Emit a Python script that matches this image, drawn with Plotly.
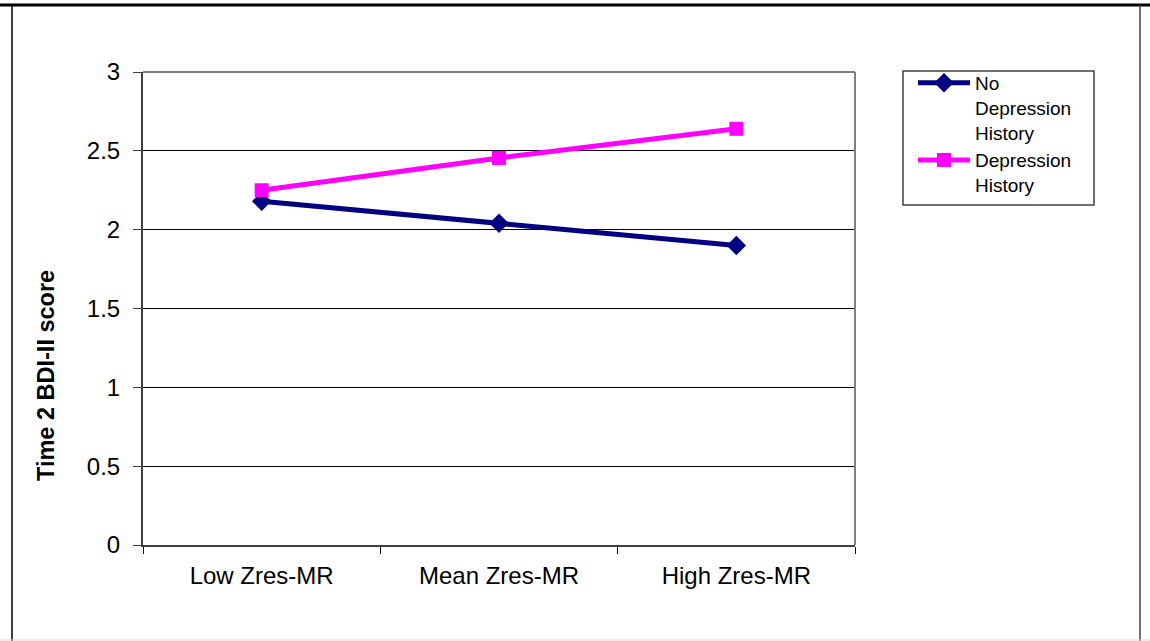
import plotly.graph_objects as go

categories = ["Low Zres-MR", "Mean Zres-MR", "High Zres-MR"]
no_dep = [2.18, 2.04, 1.90]
dep = [2.25, 2.455, 2.64]
series_names = ["No<br>Depression<br>History", "Depression<br>History"]
y_ticks = [0, 0.5, 1, 1.5, 2, 2.5, 3]
y_tick_text = ["0", "0.5", "1", "1.5", "2", "2.5", "3"]

W, H = 1150, 641
L, R, T, B = 143, 855, 72, 545

def px(x):
    return (x - L) / (R - L)

def py(y):
    return (B - y) / (B - T)

fig = go.Figure()
fig.add_trace(go.Scatter(x=categories, y=no_dep, name=series_names[0], mode="lines+markers",
                         line=dict(color="#000080", width=5),
                         marker=dict(symbol="diamond", size=15, color="#000080")))
fig.add_trace(go.Scatter(x=categories, y=dep, name=series_names[1], mode="lines+markers",
                         line=dict(color="#FF00FF", width=5),
                         marker=dict(symbol="square", size=14, color="#FF00FF")))

shapes = [
    dict(type="line", xref="paper", yref="paper", x0=0, x1=1, y0=1, y1=1, line=dict(color="#808080", width=2), layer="above"),
    dict(type="line", xref="paper", yref="paper", x0=1, x1=1, y0=0, y1=1, line=dict(color="#808080", width=2), layer="above"),
    dict(type="line", xref="paper", yref="paper", x0=px(0), x1=px(1150), y0=py(5), y1=py(5), line=dict(color="#000000", width=3)),
    dict(type="line", xref="paper", yref="paper", x0=px(12), x1=px(12), y0=py(5), y1=py(641), line=dict(color="#000000", width=1.5)),
    dict(type="line", xref="paper", yref="paper", x0=px(1140), x1=px(1140), y0=py(5), y1=py(641), line=dict(color="#404040", width=1.5)),
    dict(type="line", xref="paper", yref="paper", x0=px(0), x1=px(1150), y0=py(640), y1=py(640), line=dict(color="#D8D8D8", width=1)),
    dict(type="rect", xref="paper", yref="paper", x0=px(903), x1=px(1094), y0=py(71), y1=py(205), line=dict(color="#404040", width=1.5)),
]

fig.update_layout(
    width=W, height=H,
    margin=dict(l=L, r=W - R, t=T, b=H - B),
    paper_bgcolor="white", plot_bgcolor="white",
    font=dict(family="Liberation Sans, Arial, sans-serif", size=24, color="#000000"),
    showlegend=True,
    legend=dict(x=px(913), y=py(64), xanchor="left", yanchor="top", valign="top",
                font=dict(size=19, color="#000000"), bgcolor="rgba(0,0,0,0)", borderwidth=0,
                tracegroupgap=0, itemwidth=52),
    shapes=shapes,
    annotations=[dict(text="<b>Time 2 BDI-II score</b>", xref="paper", yref="paper", x=px(46), y=py(376),
                      xanchor="center", yanchor="middle",
                      textangle=-90, showarrow=False, font=dict(size=23.5, color="#000000"))],
)
fig.update_xaxes(type="category", range=[-0.5, 2.5], tickson="boundaries", ticks="outside", ticklen=7,
                 tickcolor="#000000", showline=True, linecolor="#404040", linewidth=2, showgrid=False,
                 ticklabelstandoff=8, tickfont=dict(size=24))
fig.update_yaxes(range=[0, 3], tickvals=y_ticks, ticktext=y_tick_text, ticks="outside", ticklen=8,
                 tickcolor="#404040", showline=True, linecolor="#404040", linewidth=2,
                 showgrid=True, gridcolor="#000000", gridwidth=1, zeroline=False,
                 ticklabelstandoff=8, tickfont=dict(size=24))

fig.write_html("out.html", config={"displayModeBar": False},
               post_script="document.body.style.margin='0';document.body.style.padding='0';")
